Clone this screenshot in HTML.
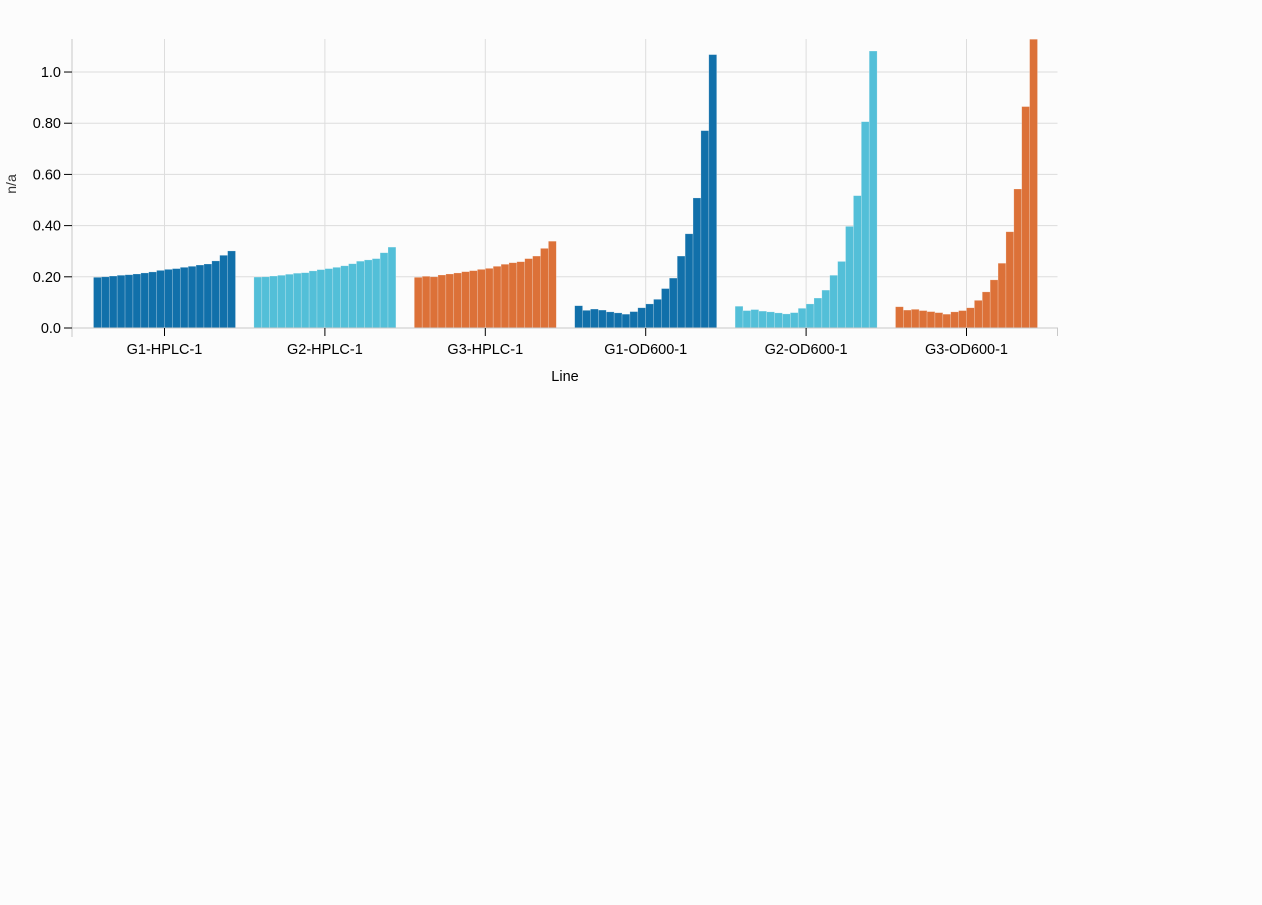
<!DOCTYPE html>
<html><head><meta charset="utf-8"><style>
body{margin:0;background:#fcfcfc;}
svg{display:block;font-family:"Liberation Sans",Arial,sans-serif;}
</style></head><body>
<svg id="chart" width="1262" height="905"></svg>
<script>
const categories=["G1-HPLC-1","G2-HPLC-1","G3-HPLC-1","G1-OD600-1","G2-OD600-1","G3-OD600-1"];
const colors=["#1170aa","#53bfd8","#dc7138","#1170aa","#53bfd8","#dc7138"];
const g1hplc=[0.198,0.200,0.203,0.206,0.208,0.211,0.215,0.219,0.225,0.229,0.232,0.237,0.241,0.246,0.250,0.262,0.284,0.301];
const g2hplc=[0.199,0.200,0.203,0.206,0.210,0.214,0.216,0.223,0.228,0.232,0.237,0.243,0.251,0.261,0.266,0.271,0.294,0.316];
const g3hplc=[0.198,0.202,0.200,0.207,0.211,0.215,0.220,0.224,0.229,0.233,0.241,0.249,0.255,0.259,0.271,0.281,0.311,0.339];
const g1od=[0.087,0.069,0.074,0.070,0.063,0.059,0.054,0.064,0.079,0.094,0.112,0.154,0.195,0.281,0.368,0.508,0.771,1.068];
const g2od=[0.085,0.068,0.072,0.066,0.063,0.059,0.055,0.060,0.077,0.094,0.117,0.148,0.206,0.260,0.397,0.517,0.806,1.082];
const g3od=[0.083,0.070,0.073,0.068,0.064,0.060,0.054,0.063,0.068,0.079,0.108,0.141,0.188,0.253,0.376,0.543,0.865,1.128];
const series=[g1hplc,g2hplc,g3hplc,g1od,g2od,g3od];
const yTicks=[0,0.2,0.4,0.6,0.8,1.0];
const yTickLabels=["0.0","0.20","0.40","0.60","0.80","1.0"];
const yMax=1.129;

const L=72,R=1057.5,T=39,B=328;
const svg=document.getElementById('chart');
const NS="http://www.w3.org/2000/svg";
function y(v){return B-(v/yMax)*(B-T);}
const step=160.4;
function xc(i){return L+92.5+step*i;}
function mk(tag,attrs,parent){const e=document.createElementNS(NS,tag);for(const k in attrs)e.setAttribute(k,attrs[k]);(parent||svg).appendChild(e);return e;}

yTicks.forEach((t,i)=>{
  const g=mk('line',{x1:L,x2:R,y1:y(t),y2:y(t),stroke:'#dddddd','stroke-width':1});
  
  
});
categories.forEach((c,i)=>{
  const g=mk('line',{x1:xc(i),x2:xc(i),y1:T,y2:B,stroke:'#dddddd','stroke-width':1});
  
  
});
const groupW=142;
series.forEach((vals,gi)=>{
  const bw=groupW/vals.length;
  const x0=xc(gi)-groupW/2;
  vals.forEach((v,j)=>{
    const r=mk('rect',{x:x0+j*bw,y:y(v),width:bw,height:B-y(v),fill:colors[gi],stroke:'rgba(255,255,255,0.35)','stroke-width':0.6});
    
    
  });
});
const ya=mk('line',{x1:L,x2:L,y1:T,y2:337,stroke:'#c8c8c8','stroke-width':1});


const xa=mk('path',{d:`M${L},336V${B}H${R}V336`,fill:'none',stroke:'#c8c8c8','stroke-width':1});


yTicks.forEach((t,i)=>{
  const tk=mk('line',{x1:64,x2:L,y1:y(t),y2:y(t),stroke:'#000','stroke-width':1});
  
  
  const tx=mk('text',{x:61,y:y(t)+5,'text-anchor':'end','font-size':14.5,fill:'#000'});
  tx.textContent=yTickLabels[i];
  
  
});
categories.forEach((c,i)=>{
  const tk=mk('line',{x1:xc(i),x2:xc(i),y1:B,y2:336,stroke:'#000','stroke-width':1});
  
  
  const tx=mk('text',{x:xc(i),y:354,'text-anchor':'middle','font-size':14.5,fill:'#000'});
  tx.textContent=c;
  
  
});
const xt=mk('text',{x:565,y:381,'text-anchor':'middle','font-size':14.5,fill:'#000'});
xt.textContent='Line';


const yt=mk('text',{x:0,y:0,transform:'translate(16,184) rotate(-90)','text-anchor':'middle','font-size':14,fill:'#333'});
yt.textContent='n/a';


</script>
</body></html>
